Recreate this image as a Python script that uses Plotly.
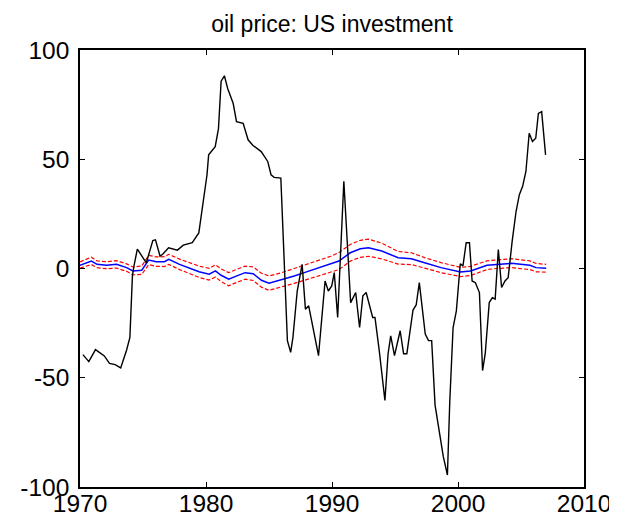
import plotly.graph_objects as go

# Black series: oil price (read vertices)
oil_year = [1970.23, 1970.70, 1971.23, 1971.93, 1972.34, 1972.79, 1973.23, 1973.70, 1973.96, 1974.16,
            1974.27, 1974.55, 1975.26, 1975.78, 1975.99, 1976.35, 1976.56, 1977.03, 1977.73, 1978.20,
            1978.91, 1979.43, 1980.08, 1980.21, 1980.73, 1980.99, 1981.20, 1981.46, 1981.72, 1982.16,
            1982.42, 1982.95, 1983.34, 1983.73, 1984.38, 1984.63, 1984.90, 1985.16, 1985.41, 1985.94,
            1986.46, 1986.72, 1986.90, 1987.24, 1987.63, 1987.89, 1988.15, 1988.93, 1989.45, 1989.71,
            1989.98, 1990.18, 1990.45, 1990.94, 1991.48, 1991.88, 1992.19, 1992.45, 1992.71, 1993.23,
            1993.41, 1993.75, 1993.88, 1994.20, 1994.45, 1994.66, 1994.96, 1995.41, 1995.68, 1995.94,
            1996.43, 1996.68, 1996.93, 1997.40, 1997.66, 1997.91, 1998.18, 1998.44, 1998.83, 1999.16,
            1999.35, 1999.61, 1999.87, 2000.18, 2000.39, 2000.65, 2000.91, 2001.12, 2001.38, 2001.70,
            2001.95, 2002.16, 2002.48, 2002.73, 2002.95, 2003.20, 2003.46, 2003.73, 2003.98, 2004.30,
            2004.61, 2004.87, 2005.13, 2005.39, 2005.65, 2005.91, 2006.17, 2006.38, 2006.64, 2006.95]
oil_value = [-39.4, -42.6, -37.1, -40.0, -43.4, -44.0, -45.5, -37.3, -31.5, -3.4,
             0.7, 8.9, 2.6, 12.8, 13.1, 5.7, 6.5, 9.5, 8.4, 10.7,
             11.8, 16.3, 42.9, 52.0, 55.8, 64.0, 85.7, 88.2, 82.4, 75.5,
             67.2, 66.4, 58.9, 56.3, 53.5, 51.3, 49.0, 42.9, 41.7, 41.4,
             -33.0, -38.4, -31.5, -10.3, 1.9, -18.6, -17.1, -39.9, -5.7, -10.3,
             -8.0, -1.9, -22.4, 39.9, -15.6, -11.0, -27.0, -12.5, -11.0, -22.4,
             -22.4, -37.6, -43.6, -60.4, -39.0, -30.8, -39.9, -28.5, -39.0, -39.0,
             -19.0, -16.7, -6.5, -30.0, -33.0, -33.0, -62.5, -72.0, -86.0, -94.5,
             -60.4, -27.0, -19.4, 2.2, 1.1, 11.8, 11.8, -5.7, -6.5, -11.0,
             -46.7, -39.0, -15.6, -13.3, -14.0, 8.7, -8.7, -5.7, -4.2, 12.5,
             26.2, 33.8, 37.6, 44.4, 61.9, 58.1, 59.6, 71.0, 71.8, 52.0]

# Blue series and red bands
band_year = [1970.0, 1970.9, 1971.35, 1972.1, 1972.9, 1973.7, 1974.2, 1974.9, 1975.45, 1976.05,
             1976.7, 1977.05, 1977.9, 1978.65, 1979.45, 1980.25, 1980.75, 1981.2, 1981.8, 1982.3,
             1983.1, 1983.75, 1984.4, 1985.0, 1986.0, 1987.0, 1987.8, 1988.85, 1989.9, 1990.55,
             1991.45, 1992.25, 1992.9, 1993.95, 1995.25, 1996.3, 1997.35, 1998.65, 2000.2, 2001.0,
             2002.3, 2003.05, 2004.25, 2005.7, 2006.2, 2007.0]
mid_value = [1.5, 3.4, 1.9, 1.5, 1.9, 0.4, -1.1, -0.8, 3.9, 3.1,
             3.1, 4.2, 1.9, 0.4, -1.5, -2.6, -1.1, -3.1, -4.9, -3.7,
             -1.9, -2.4, -5.4, -6.7, -5.2, -3.4, -1.9, 0.1, 1.9, 3.4,
             7.2, 9.0, 9.5, 8.0, 4.9, 4.5, 2.6, 0.4, -1.6, -1.1,
             1.5, 1.9, 2.4, 1.5, 0.4, 0.1]
upper_value = [3.0, 5.2, 3.5, 3.1, 3.6, 2.1, 0.7, 1.1, 6.0, 5.3,
               5.4, 6.5, 4.3, 2.9, 1.1, 0.1, 1.7, -0.2, -1.9, -0.7,
               1.1, 0.7, -2.2, -3.4, -1.9, 0.0, 1.6, 3.7, 5.6, 7.3,
               11.0, 12.9, 13.4, 11.6, 7.8, 7.2, 5.0, 2.7, 0.5, 1.0,
               3.5, 3.9, 4.5, 3.5, 2.3, 1.9]
lower_value = [0.2, 1.8, 0.4, -0.1, 0.2, -1.3, -2.9, -2.7, 1.8, 1.0,
               0.9, 1.9, -0.5, -2.1, -4.1, -5.3, -3.9, -6.0, -7.9, -6.7,
               -4.9, -5.5, -8.6, -10.0, -8.5, -6.8, -5.4, -3.5, -1.8, -0.5,
               3.4, 5.1, 5.6, 4.4, 2.0, 1.8, 0.2, -1.9, -3.7, -3.2,
               -0.5, 0.0, 0.4, -0.5, -1.5, -1.7]

x_ticks = [1970, 1980, 1990, 2000, 2010]
y_ticks = [-100, -50, 0, 50, 100]
title_text = "oil price: US investment"

fig = go.Figure()
fig.add_trace(go.Scatter(x=band_year, y=mid_value, mode="lines",
                         line=dict(color="#0000ff", width=1.5), showlegend=False))
fig.add_trace(go.Scatter(x=band_year, y=upper_value, mode="lines",
                         line=dict(color="#ff0000", width=1.2, dash="4px,2px"), showlegend=False))
fig.add_trace(go.Scatter(x=band_year, y=lower_value, mode="lines",
                         line=dict(color="#ff0000", width=1.2, dash="4px,2px"), showlegend=False))
fig.add_trace(go.Scatter(x=oil_year, y=oil_value, mode="lines",
                         line=dict(color="#000000", width=1.4), showlegend=False))

font_family = "Liberation Sans, Arial, Helvetica, sans-serif"
fig.update_layout(
    width=617, height=527,
    margin=dict(l=63, r=41, t=42, b=48),
    paper_bgcolor="white", plot_bgcolor="white",
    font=dict(family=font_family, size=24.5, color="black"),
    title=dict(text=title_text, x=0.5, xref="paper", y=1 - 16 / 527, yanchor="middle",
               font=dict(family=font_family, size=23, color="black")),
)
fig.update_xaxes(range=[1970, 2010], tickvals=x_ticks, ticktext=[str(v) for v in x_ticks],
                 showgrid=False, zeroline=False, showline=True, linecolor="black", linewidth=1.5,
                 mirror="ticks", ticks="inside", ticklen=5, tickcolor="black", tickwidth=1,
                 tickfont=dict(size=24.5), ticklabelstandoff=-6)
fig.update_yaxes(range=[-100, 100], tickvals=y_ticks, ticktext=[str(v) for v in y_ticks],
                 showgrid=False, zeroline=False, showline=True, linecolor="black", linewidth=1.5,
                 mirror="ticks", ticks="inside", ticklen=5, tickcolor="black", tickwidth=1,
                 tickfont=dict(size=24.5), ticklabelstandoff=4)

fig.write_html("out.html")
